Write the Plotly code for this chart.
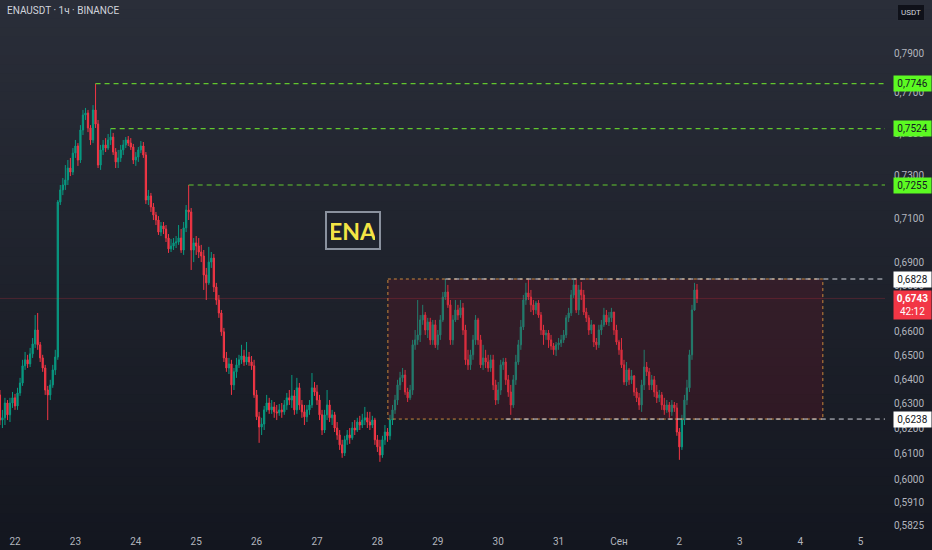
import math
import pandas as pd
import plotly.graph_objects as go

symbol_title = "ENAUSDT · 1ч · BINANCE"
start_time = "2024-08-21 18:00"
first_open = 0.6336

closes = [
    0.6234, 0.6243, 0.6303, 0.6255, 0.6303, 0.6324, 0.6291, 0.6344, 0.6385, 0.6456,
    0.6481, 0.6464, 0.6506, 0.6548, 0.6607, 0.6544, 0.6489, 0.6447, 0.6356, 0.6336,
    0.6377, 0.6439, 0.6493, 0.7176, 0.7232, 0.7255, 0.7279, 0.7335, 0.7316, 0.7406,
    0.7440, 0.7373, 0.7517, 0.7590, 0.7600, 0.7527, 0.7469, 0.7615, 0.7546, 0.7349,
    0.7421, 0.7445, 0.7430, 0.7469, 0.7483, 0.7411, 0.7364, 0.7383, 0.7421, 0.7445,
    0.7469, 0.7454, 0.7435, 0.7373, 0.7387, 0.7421, 0.7440, 0.7397, 0.7185, 0.7204,
    0.7153, 0.7116, 0.7093, 0.7038, 0.7066, 0.7052, 0.7011, 0.6962, 0.6975, 0.6989,
    0.6993, 0.7011, 0.6957, 0.7057, 0.7139, 0.7130, 0.6957, 0.6989, 0.6975, 0.6948,
    0.6930, 0.6846, 0.6811, 0.6903, 0.6921, 0.6793, 0.6736, 0.6680, 0.6599, 0.6489,
    0.6447, 0.6464, 0.6377, 0.6431, 0.6460, 0.6481, 0.6497, 0.6472, 0.6493, 0.6472,
    0.6456, 0.6336, 0.6247, 0.6206, 0.6218, 0.6275, 0.6303, 0.6275, 0.6287, 0.6267,
    0.6263, 0.6275, 0.6267, 0.6295, 0.6324, 0.6315, 0.6332, 0.6275, 0.6365, 0.6295,
    0.6267, 0.6247, 0.6275, 0.6295, 0.6365, 0.6348, 0.6315, 0.6255, 0.6194, 0.6255,
    0.6295, 0.6243, 0.6255, 0.6202, 0.6174, 0.6135, 0.6103, 0.6155, 0.6174, 0.6163,
    0.6202, 0.6194, 0.6226, 0.6214, 0.6234, 0.6243, 0.6226, 0.6214, 0.6234, 0.6155,
    0.6127, 0.6095, 0.6155, 0.6186, 0.6171, 0.6234, 0.6275, 0.6315, 0.6377, 0.6406,
    0.6418, 0.6348, 0.6324, 0.6356, 0.6544, 0.6565, 0.6586, 0.6650, 0.6671, 0.6607,
    0.6641, 0.6565, 0.6629, 0.6544, 0.6586, 0.6650, 0.6749, 0.6771, 0.6715, 0.6565,
    0.6650, 0.6693, 0.6671, 0.6702, 0.6607, 0.6481, 0.6460, 0.6502, 0.6565, 0.6650,
    0.6565, 0.6460, 0.6489, 0.6472, 0.6447, 0.6481, 0.6377, 0.6315, 0.6356, 0.6460,
    0.6472, 0.6398, 0.6348, 0.6295, 0.6398, 0.6472, 0.6544, 0.6620, 0.6736, 0.6767,
    0.6749, 0.6715, 0.6693, 0.6723, 0.6671, 0.6607, 0.6586, 0.6594, 0.6565, 0.6539,
    0.6523, 0.6544, 0.6552, 0.6565, 0.6586, 0.6659, 0.6680, 0.6758, 0.6802, 0.6693,
    0.6780, 0.6758, 0.6684, 0.6659, 0.6607, 0.6629, 0.6556, 0.6544, 0.6607, 0.6629,
    0.6671, 0.6641, 0.6659, 0.6684, 0.6607, 0.6556, 0.6523, 0.6460, 0.6389, 0.6439,
    0.6398, 0.6414, 0.6348, 0.6324, 0.6295, 0.6377, 0.6451, 0.6431, 0.6377, 0.6398,
    0.6348, 0.6324, 0.6336, 0.6295, 0.6275, 0.6295, 0.6267, 0.6295, 0.6283, 0.6186,
    0.6127, 0.6234, 0.6315, 0.6365, 0.6502, 0.6693, 0.6780, 0.6743,
]

highs = [
    0.6356, 0.6275, 0.6324, 0.6315, 0.6324, 0.6348, 0.6340, 0.6365, 0.6406, 0.6481,
    0.6514, 0.6502, 0.6531, 0.6573, 0.6671, 0.6680, 0.6556, 0.6502, 0.6460, 0.6373,
    0.6398, 0.6460, 0.6523, 0.7185, 0.7255, 0.7288, 0.7349, 0.7373, 0.7383, 0.7430,
    0.7469, 0.7454, 0.7541, 0.7615, 0.7625, 0.7615, 0.7541, 0.7639, 0.7746, 0.7566,
    0.7445, 0.7469, 0.7478, 0.7498, 0.7524, 0.7503, 0.7430, 0.7421, 0.7445, 0.7469,
    0.7483, 0.7488, 0.7478, 0.7450, 0.7411, 0.7435, 0.7464, 0.7459, 0.7411, 0.7232,
    0.7218, 0.7171, 0.7130, 0.7111, 0.7084, 0.7084, 0.7070, 0.7029, 0.7007, 0.7011,
    0.7020, 0.7070, 0.7052, 0.7084, 0.7162, 0.7255, 0.7148, 0.7011, 0.7020, 0.7011,
    0.6980, 0.6957, 0.6877, 0.6971, 0.6948, 0.6939, 0.6811, 0.6758, 0.6693, 0.6616,
    0.6514, 0.6489, 0.6481, 0.6447, 0.6489, 0.6502, 0.6544, 0.6523, 0.6556, 0.6514,
    0.6497, 0.6481, 0.6356, 0.6267, 0.6243, 0.6291, 0.6336, 0.6324, 0.6315, 0.6307,
    0.6295, 0.6299, 0.6303, 0.6315, 0.6344, 0.6356, 0.6418, 0.6356, 0.6406, 0.6385,
    0.6315, 0.6295, 0.6295, 0.6315, 0.6426, 0.6389, 0.6377, 0.6336, 0.6275, 0.6275,
    0.6356, 0.6315, 0.6275, 0.6267, 0.6226, 0.6194, 0.6155, 0.6171, 0.6194, 0.6202,
    0.6226, 0.6234, 0.6243, 0.6251, 0.6259, 0.6287, 0.6267, 0.6267, 0.6251, 0.6243,
    0.6174, 0.6155, 0.6171, 0.6214, 0.6202, 0.6255, 0.6295, 0.6336, 0.6398, 0.6431,
    0.6447, 0.6439, 0.6365, 0.6377, 0.6565, 0.6607, 0.6736, 0.6671, 0.6715, 0.6684,
    0.6659, 0.6659, 0.6650, 0.6650, 0.6607, 0.6671, 0.6771, 0.6828, 0.6802, 0.6736,
    0.6671, 0.6736, 0.6715, 0.6736, 0.6723, 0.6629, 0.6523, 0.6523, 0.6586, 0.6671,
    0.6659, 0.6586, 0.6544, 0.6523, 0.6502, 0.6502, 0.6502, 0.6398, 0.6389, 0.6481,
    0.6489, 0.6489, 0.6418, 0.6377, 0.6418, 0.6502, 0.6565, 0.6650, 0.6758, 0.6811,
    0.6825, 0.6780, 0.6736, 0.6732, 0.6736, 0.6684, 0.6629, 0.6607, 0.6607, 0.6586,
    0.6552, 0.6556, 0.6573, 0.6586, 0.6607, 0.6671, 0.6702, 0.6780, 0.6825, 0.6825,
    0.6802, 0.6815, 0.6780, 0.6702, 0.6671, 0.6650, 0.6629, 0.6573, 0.6629, 0.6650,
    0.6702, 0.6693, 0.6684, 0.6702, 0.6671, 0.6629, 0.6565, 0.6573, 0.6481, 0.6472,
    0.6447, 0.6439, 0.6418, 0.6365, 0.6344, 0.6398, 0.6523, 0.6472, 0.6447, 0.6418,
    0.6414, 0.6377, 0.6356, 0.6348, 0.6324, 0.6315, 0.6307, 0.6315, 0.6307, 0.6303,
    0.6202, 0.6255, 0.6336, 0.6398, 0.6523, 0.6715, 0.6811, 0.6806,
]

lows = [
    0.6214, 0.6202, 0.6214, 0.6234, 0.6226, 0.6283, 0.6275, 0.6275, 0.6332, 0.6373,
    0.6439, 0.6447, 0.6451, 0.6489, 0.6531, 0.6523, 0.6472, 0.6431, 0.6336, 0.6234,
    0.6315, 0.6365, 0.6418, 0.6481, 0.7162, 0.7208, 0.7232, 0.7255, 0.7297, 0.7302,
    0.7383, 0.7345, 0.7359, 0.7493, 0.7566, 0.7507, 0.7445, 0.7454, 0.7527, 0.7335,
    0.7326, 0.7397, 0.7411, 0.7421, 0.7445, 0.7397, 0.7335, 0.7335, 0.7364, 0.7397,
    0.7430, 0.7440, 0.7421, 0.7354, 0.7345, 0.7364, 0.7406, 0.7383, 0.7167, 0.7162,
    0.7130, 0.7093, 0.7070, 0.7025, 0.7020, 0.7029, 0.6993, 0.6944, 0.6948, 0.6957,
    0.6966, 0.6980, 0.6944, 0.6935, 0.7038, 0.7093, 0.6868, 0.6903, 0.6935, 0.6921,
    0.6903, 0.6780, 0.6736, 0.6802, 0.6877, 0.6771, 0.6715, 0.6659, 0.6582, 0.6472,
    0.6431, 0.6422, 0.6336, 0.6356, 0.6406, 0.6447, 0.6464, 0.6456, 0.6460, 0.6456,
    0.6439, 0.6324, 0.6234, 0.6143, 0.6174, 0.6194, 0.6267, 0.6259, 0.6259, 0.6243,
    0.6234, 0.6251, 0.6243, 0.6255, 0.6275, 0.6295, 0.6283, 0.6255, 0.6259, 0.6275,
    0.6243, 0.6214, 0.6226, 0.6255, 0.6283, 0.6332, 0.6295, 0.6234, 0.6174, 0.6182,
    0.6234, 0.6226, 0.6214, 0.6186, 0.6155, 0.6115, 0.6084, 0.6091, 0.6135, 0.6139,
    0.6155, 0.6174, 0.6186, 0.6194, 0.6202, 0.6214, 0.6202, 0.6194, 0.6202, 0.6135,
    0.6107, 0.6068, 0.6084, 0.6135, 0.6147, 0.6155, 0.6214, 0.6259, 0.6295, 0.6356,
    0.6389, 0.6336, 0.6307, 0.6315, 0.6336, 0.6523, 0.6544, 0.6556, 0.6629, 0.6586,
    0.6573, 0.6544, 0.6544, 0.6531, 0.6523, 0.6565, 0.6641, 0.6736, 0.6702, 0.6544,
    0.6544, 0.6641, 0.6650, 0.6659, 0.6586, 0.6460, 0.6439, 0.6439, 0.6481, 0.6544,
    0.6544, 0.6447, 0.6439, 0.6447, 0.6431, 0.6431, 0.6356, 0.6295, 0.6299, 0.6336,
    0.6439, 0.6377, 0.6328, 0.6255, 0.6283, 0.6377, 0.6460, 0.6523, 0.6607, 0.6715,
    0.6736, 0.6684, 0.6671, 0.6676, 0.6659, 0.6586, 0.6544, 0.6565, 0.6531, 0.6523,
    0.6502, 0.6497, 0.6523, 0.6535, 0.6552, 0.6573, 0.6641, 0.6667, 0.6745, 0.6680,
    0.6671, 0.6736, 0.6671, 0.6641, 0.6586, 0.6590, 0.6535, 0.6523, 0.6531, 0.6586,
    0.6620, 0.6629, 0.6624, 0.6641, 0.6586, 0.6544, 0.6502, 0.6447, 0.6377, 0.6373,
    0.6377, 0.6381, 0.6332, 0.6307, 0.6275, 0.6267, 0.6356, 0.6414, 0.6356, 0.6356,
    0.6328, 0.6303, 0.6307, 0.6275, 0.6255, 0.6263, 0.6243, 0.6251, 0.6267, 0.6171,
    0.6076, 0.6115, 0.6214, 0.6295, 0.6348, 0.6481, 0.6689, 0.6723,
]

day_ticks = ["2024-08-22", "2024-08-23", "2024-08-24", "2024-08-25", "2024-08-26",
             "2024-08-27", "2024-08-28", "2024-08-29", "2024-08-30", "2024-08-31",
             "2024-09-01", "2024-09-02", "2024-09-03", "2024-09-04", "2024-09-05"]
day_labels = ["22", "23", "24", "25", "26", "27", "28", "29", "30", "31",
              "Сен", "2", "3", "4", "5"]

price_ticks = [0.79, 0.77, 0.75, 0.73, 0.71, 0.69, 0.68, 0.67, 0.66, 0.65, 0.64,
               0.63, 0.62, 0.61, 0.60, 0.591, 0.5825]
price_tick_labels = ["0,7900", "0,7700", "0,7500", "0,7300", "0,7100", "0,6900",
                     "0,6800", "0,6700", "0,6600", "0,6500", "0,6400", "0,6300",
                     "0,6200", "0,6100", "0,6000", "0,5910", "0,5825"]

green_levels = [0.7746, 0.7524, 0.7255]
green_level_labels = ["0,7746", "0,7524", "0,7255"]
green_level_starts = ["2024-08-23 08:00", "2024-08-23 14:00", "2024-08-24 21:00"]

white_levels = [0.6828, 0.6238]
white_level_labels = ["0,6828", "0,6238"]
white_level_starts = ["2024-08-29 03:00", "2024-08-30 03:00"]

zone_start = "2024-08-28 04:10"
zone_end = "2024-09-04 09:00"
zone_top = 0.6828
zone_bottom = 0.6238

last_price = 0.6743
last_price_label = "0,6743"
countdown = "42:12"
currency = "USDT"
badge_text = "ENA"

x_range = ["2024-08-21 18:02", "2024-09-05 09:42"]
y_range = [0.5807, 0.8175]

# ---------------------------------------------------------------- styles
UP = "#089981"
DOWN = "#f23645"
AXIS_TXT = "#b2b5be"
FONT = "Roboto"
W, H = 932, 550
ML, MR, MT, MB = 0, 47, 0, 20

times = pd.date_range(start_time, periods=len(closes), freq="h")
opens = [first_open] + closes[:-1]
highs_f = [max(h, o, c) for h, o, c in zip(highs, opens, closes)]
lows_f = [min(l, o, c) for l, o, c in zip(lows, opens, closes)]

fig = go.Figure()

# zone rectangle
fig.add_trace(go.Scatter(
    x=[zone_start, zone_end, zone_end, zone_start, zone_start],
    y=[zone_top, zone_top, zone_bottom, zone_bottom, zone_top],
    mode="lines", fill="toself", fillcolor="rgba(130,20,36,0.22)",
    line=dict(color="#c8873c", width=1, dash="dot"),
    hoverinfo="skip", showlegend=False))

# current price line
fig.add_trace(go.Scatter(
    x=x_range, y=[last_price, last_price], mode="lines",
    line=dict(color="rgba(242,54,69,0.22)", width=1),
    hoverinfo="skip", showlegend=False))

# green levels
for lv, st in zip(green_levels, green_level_starts):
    fig.add_trace(go.Scatter(
        x=[st, x_range[1]], y=[lv, lv], mode="lines",
        line=dict(color="#62c72e", width=1.2, dash="5px,4px"),
        hoverinfo="skip", showlegend=False))

# white levels
for lv, st in zip(white_levels, white_level_starts):
    fig.add_trace(go.Scatter(
        x=[st, x_range[1]], y=[lv, lv], mode="lines",
        line=dict(color="#d1d4dc", width=1, dash="5px,4px"),
        hoverinfo="skip", showlegend=False))

fig.add_trace(go.Candlestick(
    x=times, open=opens, high=highs_f, low=lows_f, close=closes,
    increasing=dict(line=dict(color=UP, width=1), fillcolor=UP),
    decreasing=dict(line=dict(color=DOWN, width=1), fillcolor=DOWN),
    whiskerwidth=0, showlegend=False, hoverinfo="skip"))

# background gradient bands (figure-wide)
shapes = []
n_bands = 60
top_c = (42, 46, 57)
bot_c = (19, 22, 31)
plot_h = H - MT - MB
plot_w = W - ML - MR
y_bottom_paper = -MB / plot_h
y_top_paper = 1 + MT / plot_h
for k in range(n_bands):
    t = (k + 0.5) / n_bands
    col = tuple(int(round(top_c[j] + (bot_c[j] - top_c[j]) * t)) for j in range(3))
    y1 = y_top_paper - (y_top_paper - y_bottom_paper) * k / n_bands
    y0 = y_top_paper - (y_top_paper - y_bottom_paper) * (k + 1) / n_bands
    shapes.append(dict(type="rect", xref="paper", yref="paper",
                       x0=-ML / plot_w, x1=(W - ML) / plot_w, y0=y0 - 0.002, y1=y1,
                       fillcolor="rgb(%d,%d,%d)" % col, line=dict(width=0),
                       layer="below"))

annotations = []
# title
annotations.append(dict(xref="paper", yref="paper", x=5 / plot_w, y=1, xanchor="left",
                        yanchor="top", yshift=-3, showarrow=False,
                        text=symbol_title,
                        font=dict(family=FONT, size=10, color="#d1d4dc")))
# currency box
annotations.append(dict(xref="paper", yref="paper", x=1, y=1, xanchor="left",
                        yanchor="top", xshift=12, yshift=-4, showarrow=False,
                        text=currency, bgcolor="#0f1119", bordercolor="#2a2e39",
                        borderwidth=1, borderpad=3,
                        font=dict(family=FONT, size=8, color="#d1d4dc")))
# ENA badge
annotations.append(dict(xref="paper", yref="paper", x=353 / plot_w,
                        y=(plot_h - 230.5) / plot_h, xanchor="center", yanchor="middle",
                        showarrow=False, text="<b>%s</b>" % badge_text,
                        bgcolor="#1f232e", bordercolor="#8a919e", borderwidth=2,
                        borderpad=4, width=44, height=27,
                        font=dict(family="Lato", size=23, color="#f4e545")))
# axis labels for levels
for lv, lab in zip(green_levels, green_level_labels):
    annotations.append(dict(xref="paper", yref="y", x=1, y=math.log10(lv),
                            xanchor="left", yanchor="middle", xshift=8, showarrow=False,
                            text=lab, bgcolor="#5cfa22", borderpad=2, width=33,
                            font=dict(family=FONT, size=10, color="#131722")))
for lv, lab in zip(white_levels, white_level_labels):
    annotations.append(dict(xref="paper", yref="y", x=1, y=math.log10(lv),
                            xanchor="left", yanchor="middle", xshift=8, showarrow=False,
                            text=lab, bgcolor="#ffffff", borderpad=2, width=33,
                            font=dict(family=FONT, size=10, color="#131722")))
annotations.append(dict(xref="paper", yref="y", x=1, y=math.log10(last_price),
                        xanchor="left", yanchor="top", xshift=8, yshift=8,
                        showarrow=False,
                        text="<b>%s</b><br>%s" % (last_price_label, countdown),
                        bgcolor="#f23645", borderpad=2, width=33,
                        font=dict(family=FONT, size=10, color="#ffffff")))

fig.update_layout(
    width=W, height=H,
    margin=dict(l=ML, r=MR, t=MT, b=MB, pad=0),
    paper_bgcolor="rgb(19,22,31)", plot_bgcolor="rgba(0,0,0,0)",
    shapes=shapes, annotations=annotations,
    font=dict(family=FONT, size=10, color=AXIS_TXT),
    xaxis=dict(type="date", range=x_range, tickvals=day_ticks, ticktext=day_labels,
               showgrid=False, zeroline=False, showline=False, ticks="",
               ticklabelstandoff=4,
               rangeslider=dict(visible=False),
               tickfont=dict(family=FONT, size=10, color=AXIS_TXT)),
    yaxis=dict(type="log", side="right",
               range=[math.log10(y_range[0]), math.log10(y_range[1])],
               tickvals=price_ticks, ticktext=price_tick_labels,
               showgrid=False, zeroline=False, showline=False, ticks="",
               ticklabelstandoff=8,
               tickfont=dict(family=FONT, size=10, color=AXIS_TXT)),
    hovermode=False,
)

fig.write_html("out.html",
               config={"displayModeBar": False},
               post_script="document.body.style.margin='0';document.body.style.background='rgb(19,22,31)';")
